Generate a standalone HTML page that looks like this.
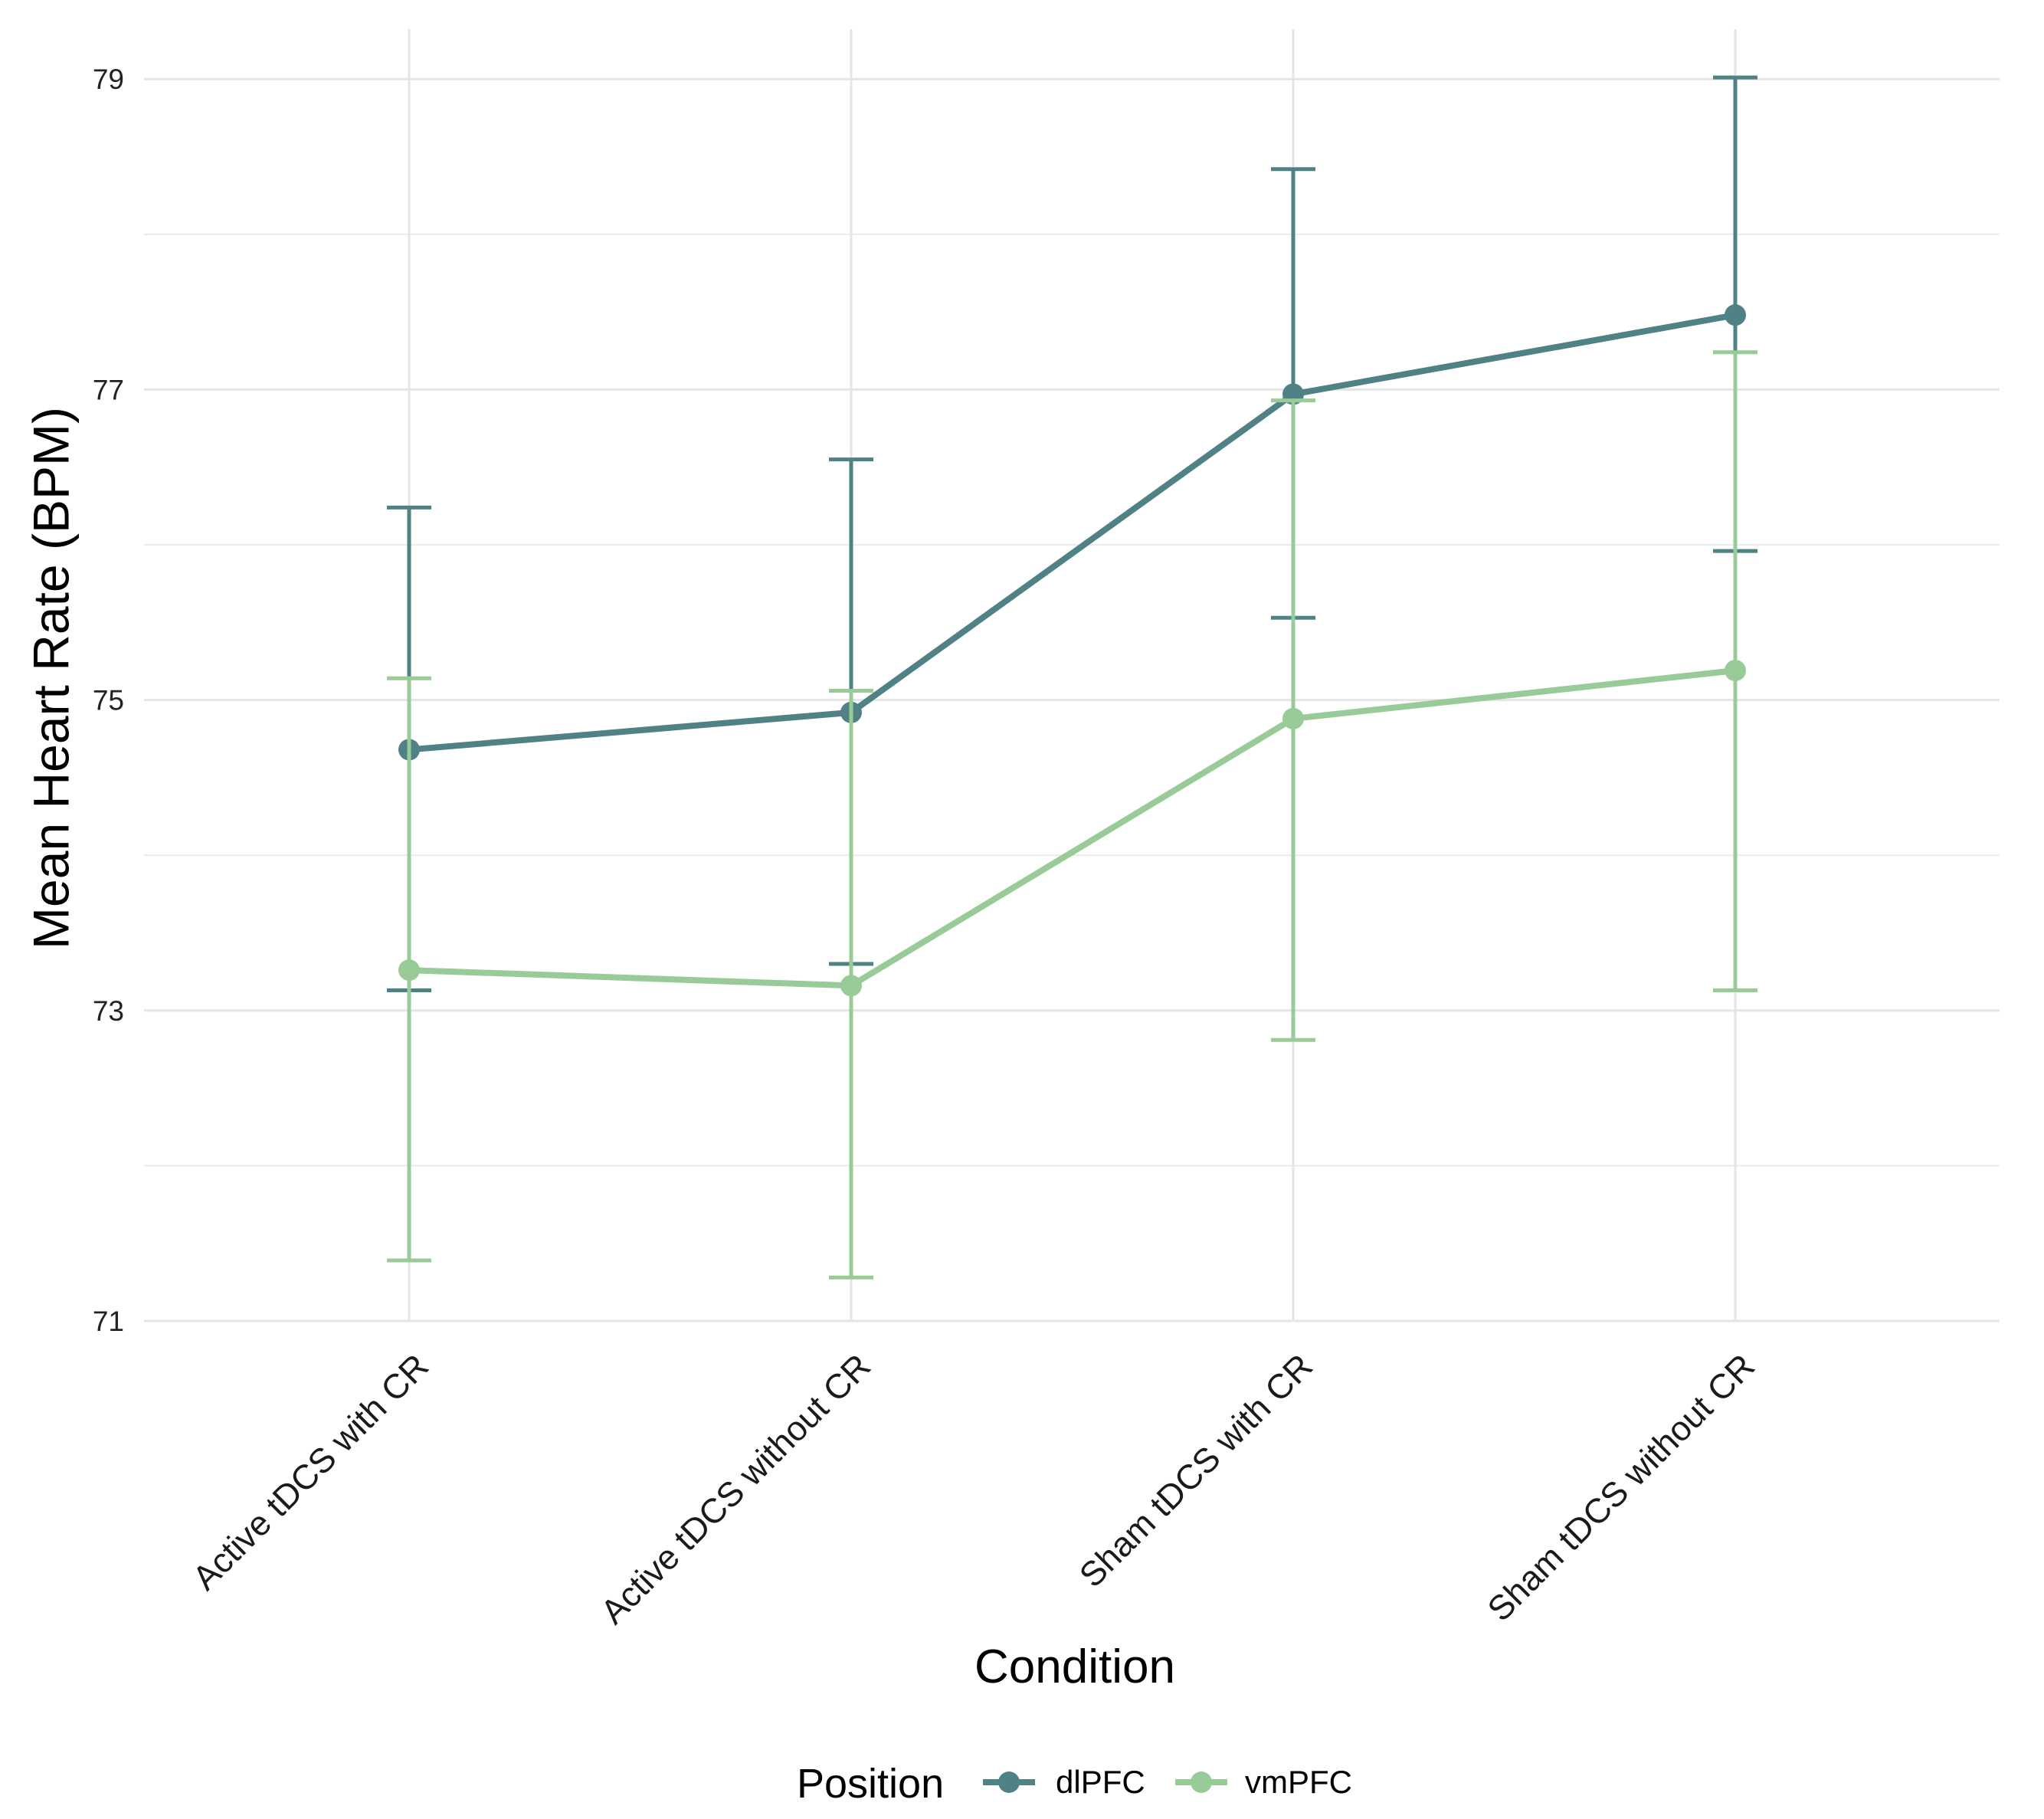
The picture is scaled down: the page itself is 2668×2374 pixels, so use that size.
<!DOCTYPE html>
<html><head><meta charset="utf-8"><style>
html,body{margin:0;padding:0;background:#fff;}
svg{display:block;font-family:"Liberation Sans",Arial,sans-serif;}
</style></head><body>
<svg id="chart" width="2668" height="2374" viewBox="0 0 2668 2374">
<g id="grid"></g>
<g id="yticks"></g>
<g id="xticks"></g>
<g id="series"></g>
<text x="72" y="885" font-size="66" text-anchor="middle" transform="rotate(-90 72 885)" dominant-baseline="middle">Mean Heart Rate (BPM)</text>
<text x="1403" y="2196" font-size="62" text-anchor="middle">Condition</text>
<g>
<text x="1040" y="2346" font-size="54">Position</text>
<g>
<line x1="1283" y1="2326" x2="1351" y2="2326" stroke="#4f8185" stroke-width="8"/>
<circle cx="1317" cy="2326" r="14" fill="#4f8185"/>
<text x="1378" y="2340" font-size="42">dlPFC</text></g>
<g>
<line x1="1534" y1="2326" x2="1602" y2="2326" stroke="#98cb98" stroke-width="8"/>
<circle cx="1568" cy="2326" r="14" fill="#98cb98"/>
<text x="1625" y="2340" font-size="42">vmPFC</text></g>
</g>
</svg>
<script>
const categories=["Active tDCS with CR","Active tDCS without CR","Sham tDCS with CR","Sham tDCS without CR"];
const seriesNames=["dlPFC","vmPFC"];
const dlpfcMean=[74.68,74.92,76.97,77.48];
const dlpfcUpper=[76.24,76.55,78.42,79.01];
const dlpfcLower=[73.13,73.30,75.53,75.96];
const vmpfcMean=[73.26,73.16,74.88,75.19];
const vmpfcUpper=[75.14,75.06,76.93,77.24];
const vmpfcLower=[71.39,71.28,72.81,73.13];
const yTicks=[71,73,75,77,79];
const yMinor=[72,74,76,78];

const NS="http://www.w3.org/2000/svg";
const L=188,R=2610,T=38,B=1724;
function y(v){return 1724-(v-71)*202.6;}
function x(i){return 534+i*577;}
function mk(tag,attrs,parent){const e=document.createElementNS(NS,tag);for(const k in attrs)e.setAttribute(k,attrs[k]);parent.appendChild(e);return e;}
const grid=document.getElementById('grid');
yMinor.forEach(v=>{const l=mk('line',{x1:L,x2:R,y1:y(v),y2:y(v),stroke:'#ebebeb','stroke-width':2},grid);

});
yTicks.forEach(v=>{const l=mk('line',{x1:L,x2:R,y1:y(v),y2:y(v),stroke:'#e5e5e5','stroke-width':3},grid);

});
categories.forEach((c,i)=>{const l=mk('line',{x1:x(i),x2:x(i),y1:T,y2:B,stroke:'#e5e5e5','stroke-width':3},grid);

});
const yt=document.getElementById('yticks');
yTicks.forEach(v=>{const t=mk('text',{x:162,y:y(v)+13,'font-size':37,'text-anchor':'end',fill:'#222'},yt);t.textContent=v;

});
const xt=document.getElementById('xticks');
categories.forEach((c,i)=>{const px=x(i)+28,py=1786;const t=mk('text',{x:px,y:py,'font-size':45,'text-anchor':'end',fill:'#1a1a1a',transform:`rotate(-45 ${px} ${py})`},xt);t.textContent=c;

});
const sg=document.getElementById('series');
const data=[[dlpfcMean,dlpfcUpper,dlpfcLower,'#4f8185'],[vmpfcMean,vmpfcUpper,vmpfcLower,'#98cb98']];
data.forEach(([m,u,lo,col],s)=>{
 const g=mk('g',{},sg);
 
 
 m.forEach((v,i)=>{
  const e=mk('path',{d:`M${x(i)},${y(u[i])}V${y(lo[i])}M${x(i)-29},${y(u[i])}h58M${x(i)-29},${y(lo[i])}h58`,stroke:col,'stroke-width':5,fill:'none'},g);
  
  
 });
 const ln=mk('polyline',{points:m.map((v,i)=>x(i)+','+y(v)).join(' '),stroke:col,'stroke-width':8,fill:'none'},g);
 
 
 m.forEach((v,i)=>{const c=mk('circle',{cx:x(i),cy:y(v),r:14,fill:col},g);
  
  });
});
</script>
</body></html>
